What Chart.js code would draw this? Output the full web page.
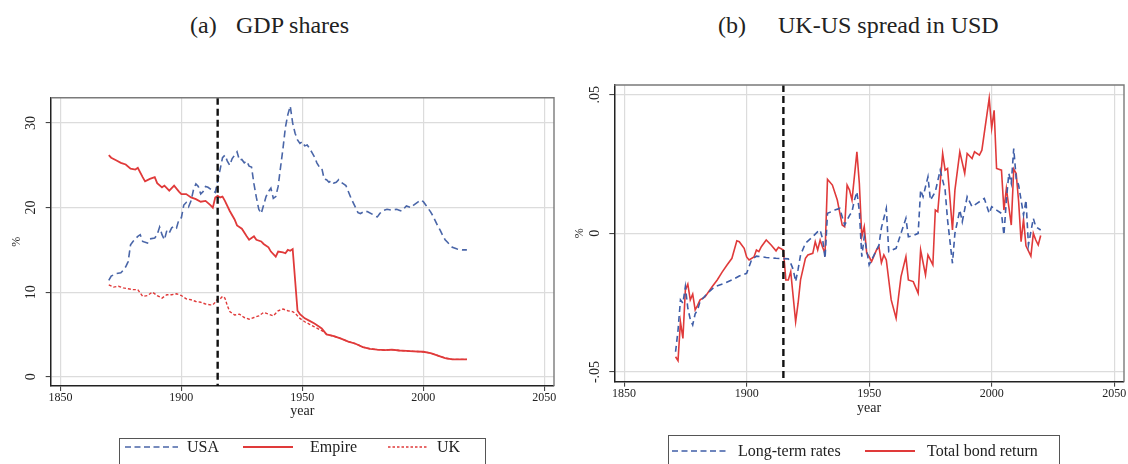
<!DOCTYPE html>
<html>
<head>
<meta charset="utf-8">
<script src="https://cdn.jsdelivr.net/npm/chart.js@4.4.1/dist/chart.umd.min.js"></script>
<style>
  body { margin: 0; background: #fff; width: 1128px; height: 464px; overflow: hidden; position: relative;
         font-family: "Liberation Serif", "DejaVu Serif", serif; color: #222; }
  .title { position: absolute; top: 11px; font-size: 24px; line-height: 28px; white-space: nowrap; }
  canvas { position: absolute; }
  .legend { position: absolute; border: 1px solid #555; height: 40px; background: #fff; }
  .item { position: absolute; font-size: 16px; line-height: 18px; white-space: nowrap; }
  svg { position: absolute; overflow: visible; }
</style>
</head>
<body>

<span class="title" style="left:190px">(a)</span>
<span class="title" style="left:236px">GDP shares</span>
<span class="title" style="left:718px">(b)</span>
<span class="title" style="left:778px">UK-US spread in USD</span>

<canvas id="gdp" width="560" height="345" style="left:0;top:80px"></canvas>
<canvas id="spread" width="568" height="350" style="left:560px;top:70px"></canvas>

<div class="legend" style="left:119px;top:438px;width:365px"></div>
<svg style="left:0;top:0" width="1" height="1">
  <line x1="125" y1="447" x2="178" y2="447" stroke="#4a66a8" stroke-width="1.6" stroke-dasharray="6,3.5"/>
  <line x1="243" y1="447" x2="293" y2="447" stroke="#e03a3a" stroke-width="1.8"/>
  <line x1="388" y1="447" x2="428" y2="447" stroke="#e03a3a" stroke-width="1.4" stroke-dasharray="2.5,2"/>
</svg>
<span class="item" style="left:187px;top:438px">USA</span>
<span class="item" style="left:310px;top:438px">Empire</span>
<span class="item" style="left:437px;top:438px">UK</span>

<div class="legend" style="left:668px;top:435px;width:390px"></div>
<svg style="left:0;top:0" width="1" height="1">
  <line x1="672" y1="451" x2="728" y2="451" stroke="#3f5ea8" stroke-width="1.6" stroke-dasharray="6,3.5"/>
  <line x1="865" y1="451" x2="915" y2="451" stroke="#e03a3a" stroke-width="1.8"/>
</svg>
<span class="item" style="left:738px;top:442px">Long-term rates</span>
<span class="item" style="left:927px;top:442px">Total bond return</span>

<script>
// year of the break marked by the dashed vertical line
const warYear = 1915;
const xTicks = [1850, 1900, 1950, 2000, 2050];

// (a) GDP shares, %
const usaYears = [1870, 1871, 1873, 1875, 1876, 1877, 1878, 1879, 1880, 1882, 1883, 1884, 1886, 1887, 1889, 1890, 1891, 1892, 1893, 1894, 1895, 1896, 1897, 1898, 1899, 1900,
  1901, 1902, 1903, 1904, 1905, 1906, 1907, 1908, 1909, 1910, 1911, 1913, 1914, 1915, 1916, 1917, 1918, 1919, 1920, 1921, 1922, 1923, 1924, 1925, 1926, 1927, 1928, 1929,
  1930, 1931, 1932, 1933, 1934, 1935, 1936, 1937, 1938, 1939, 1940, 1941, 1942, 1943, 1944, 1945, 1946, 1947, 1948, 1949, 1950, 1951, 1952, 1953, 1954, 1955, 1956, 1957,
  1958, 1959, 1960, 1961, 1962, 1963, 1964, 1965, 1966, 1967, 1968, 1969, 1970, 1971, 1972, 1973, 1974, 1976, 1977, 1979, 1980, 1981, 1982, 1983, 1985, 1987, 1989, 1990,
  1991, 1992, 1993, 1995, 1996, 1998, 1999, 2000, 2001, 2002, 2003, 2004, 2005, 2006, 2007, 2008, 2009, 2010, 2011, 2012, 2014, 2016, 2018];
const usaShare = [11.4, 11.9, 12.2, 12.3, 12.6, 13.0, 13.6, 15.6, 16.0, 16.6, 16.8, 16.0, 15.8, 16.3, 16.4, 16.8, 17.7, 16.8, 16.2, 17.3, 17.0, 17.6, 17.8, 17.6, 18.6, 18.8,
  20.3, 20.6, 20.1, 20.8, 22.1, 22.8, 22.5, 21.6, 21.9, 22.5, 22.4, 22.0, 21.8, 23.1, 24.5, 25.9, 26.2, 25.5, 25.0, 25.8, 26.2, 26.6, 25.6, 25.7, 25.3, 25.5, 24.9, 24.8,
  22.8, 21.2, 19.8, 19.3, 20.3, 21.3, 21.9, 22.3, 21.1, 21.3, 22.5, 24.8, 27.0, 29.5, 31.0, 32.0, 30.0, 28.8, 28.0, 27.6, 27.8, 27.3, 27.4, 27.0, 26.5, 26.0, 25.3, 24.8,
  24.7, 23.4, 23.3, 23.0, 23.2, 22.9, 23.0, 23.3, 23.0, 22.8, 22.6, 21.9, 21.2, 20.6, 20.0, 19.4, 19.3, 19.6, 19.5, 19.2, 19.0, 18.9, 19.3, 19.6, 19.8, 19.7, 19.8, 19.7,
  19.6, 19.9, 20.2, 20.0, 20.3, 20.7, 20.9, 20.7, 20.3, 19.9, 19.5, 19.0, 18.4, 17.8, 17.3, 16.7, 16.2, 15.9, 15.6, 15.3, 15.1, 15.0, 15.0];

const empireYears = [1870, 1871, 1873, 1875, 1877, 1879, 1881, 1882, 1884, 1885, 1887, 1889, 1890, 1892, 1893, 1895, 1897, 1899, 1900, 1902, 1904, 1906, 1908, 1910, 1912,
  1913, 1914, 1915, 1916, 1917, 1918, 1920, 1922, 1923, 1925, 1927, 1928, 1930, 1931, 1933, 1934, 1936, 1937, 1939, 1940, 1942, 1943, 1944, 1945, 1946, 1948, 1949, 1951,
  1953, 1955, 1957, 1958, 1960, 1963, 1966, 1969, 1972, 1975, 1978, 1981, 1984, 1987, 1990, 1993, 1996, 2000, 2003, 2006, 2009, 2012, 2015, 2018];
const empireShare = [26.2, 25.9, 25.6, 25.3, 25.1, 24.6, 24.5, 24.7, 23.6, 23.1, 23.4, 23.6, 22.9, 22.4, 22.6, 22.0, 22.6, 21.9, 21.6, 21.6, 21.2, 21.0, 20.7, 20.8, 20.3,
  20.0, 21.2, 21.4, 21.2, 21.3, 20.8, 19.6, 18.6, 17.9, 17.5, 16.6, 16.2, 16.6, 16.2, 16.0, 15.7, 15.3, 14.8, 14.2, 14.8, 14.7, 14.6, 15.0, 14.9, 15.1, 7.8, 7.4, 6.9,
  6.6, 6.3, 5.9, 5.7, 5.0, 4.8, 4.5, 4.15, 3.9, 3.5, 3.3, 3.2, 3.15, 3.2, 3.1, 3.05, 3.0, 2.95, 2.8, 2.5, 2.2, 2.05, 2.05, 2.05];

const ukYears = [1870, 1872, 1874, 1876, 1878, 1880, 1882, 1884, 1886, 1888, 1890, 1892, 1894, 1896, 1898, 1900, 1902, 1904, 1906, 1908, 1910, 1912, 1913, 1914, 1915,
  1916, 1917, 1918, 1919, 1920, 1922, 1924, 1926, 1928, 1930, 1932, 1934, 1936, 1938, 1940, 1942, 1944, 1946, 1947, 1949, 1951, 1953, 1955, 1957, 1959, 1960, 1963, 1966,
  1969, 1972, 1975, 1978, 1981, 1984, 1987, 1990, 1993, 1996, 2000, 2003, 2006, 2009, 2012, 2015, 2018];
const ukShare = [10.85, 10.6, 10.7, 10.5, 10.4, 10.3, 10.3, 9.5, 9.6, 10.0, 9.6, 9.3, 9.7, 9.7, 9.8, 9.6, 9.2, 9.1, 8.9, 8.8, 8.6, 8.5, 8.5, 8.8, 9.2,
  9.2, 9.5, 9.3, 8.4, 7.7, 7.3, 7.4, 7.0, 6.8, 7.0, 7.2, 7.6, 7.4, 7.2, 7.8, 8.0, 7.8, 7.7, 7.5, 6.9, 6.5, 6.2, 5.9, 5.6, 5.3, 5.0, 4.8, 4.5,
  4.15, 3.9, 3.5, 3.3, 3.2, 3.15, 3.2, 3.1, 3.05, 3.0, 2.95, 2.8, 2.5, 2.2, 2.05, 2.05, 2.05];

// (b) UK-US spread in USD
const rateYears = [1871, 1872, 1873, 1874, 1875, 1876, 1877, 1878, 1879, 1880, 1881, 1884, 1887, 1891, 1894, 1897, 1900, 1902, 1904, 1908, 1912, 1917, 1918, 1919, 1920,
  1921, 1922, 1924, 1927, 1929, 1930, 1931, 1932, 1933, 1936, 1938, 1940, 1942, 1943, 1944, 1945, 1946, 1947, 1948, 1949, 1950, 1952, 1954, 1955, 1957, 1958, 1961, 1963,
  1965, 1966, 1968, 1970, 1971, 1972, 1974, 1975, 1977, 1979, 1981, 1982, 1984, 1985, 1987, 1988, 1990, 1992, 1994, 1996, 1997, 1999, 2000, 2002, 2004, 2005, 2006, 2007,
  2008, 2009, 2010, 2011, 2013, 2014, 2015, 2017, 2018, 2020];
const rateSpread = [-0.0427, -0.035, -0.024, -0.0252, -0.0192, -0.027, -0.031, -0.033, -0.029, -0.0276, -0.0246, -0.0216, -0.0192, -0.018, -0.0168, -0.0154, -0.0144,
  -0.0096, -0.0082, -0.0087, -0.009, -0.0092, -0.0108, -0.013, -0.0174, -0.013, -0.0078, -0.0036, -0.0012, 0.0006, 0.0012, -0.002, -0.009, 0.0072, 0.0084, 0.009, 0.003,
  0.0065, 0.0078, 0.012, 0.015, 0.008, -0.0084, -0.0012, -0.006, -0.0114, -0.0078, -0.0042, 0.002, 0.009, -0.0066, -0.0054, 0.0, 0.0054, -0.0012, -0.0008, 0.0, 0.0156,
  0.0132, 0.0204, 0.012, 0.015, 0.0228, 0.0156, 0.0048, -0.0108, 0.0, 0.0084, 0.0042, 0.0132, 0.0096, 0.0108, 0.012, 0.0126, 0.0072, 0.0096, 0.0084, 0.0072, -0.0006,
  0.012, 0.0216, 0.018, 0.0306, 0.0198, 0.0174, 0.0066, 0.012, -0.0042, 0.0054, 0.0024, 0.0012];

const returnYears = [1871, 1872, 1873, 1874, 1875, 1876, 1877, 1878, 1879, 1880, 1881, 1883, 1886, 1888, 1890, 1892, 1894, 1896, 1897, 1899, 1900, 1901, 1903, 1904, 1905,
  1906, 1908, 1910, 1912, 1913, 1915, 1916, 1917, 1918, 1920, 1921, 1922, 1924, 1925, 1927, 1928, 1929, 1930, 1931, 1932, 1933, 1935, 1937, 1939, 1940, 1941, 1942, 1943,
  1945, 1946, 1947, 1948, 1949, 1950, 1951, 1953, 1954, 1955, 1956, 1957, 1959, 1961, 1962, 1963, 1965, 1966, 1968, 1970, 1971, 1973, 1974, 1976, 1977, 1978, 1980, 1981,
  1982, 1984, 1985, 1987, 1989, 1990, 1992, 1993, 1995, 1996, 1999, 2000, 2001, 2002, 2004, 2005, 2006, 2008, 2009, 2010, 2011, 2012, 2013, 2014, 2016, 2017, 2018, 2019, 2020];
const returnSpread = [-0.0445, -0.0459, -0.0319, -0.0379, -0.0204, -0.0183, -0.024, -0.0219, -0.0276, -0.026, -0.024, -0.0229, -0.0192, -0.0168, -0.014, -0.0114, -0.009,
  -0.0027, -0.003, -0.0054, -0.0085, -0.0096, -0.0085, -0.006, -0.0066, -0.0048, -0.0024, -0.0042, -0.0063, -0.005, -0.006, -0.0168, -0.0168, -0.0138, -0.0319, -0.0252,
  -0.0168, -0.009, -0.0078, -0.0072, -0.003, -0.006, -0.0024, -0.005, -0.0072, 0.0195, 0.0174, 0.012, 0.003, 0.0024, 0.0174, 0.0156, 0.012, 0.0294, 0.018, -0.0012, 0.0024,
  -0.0072, -0.0084, -0.0102, -0.006, -0.0048, -0.0106, -0.0078, -0.0096, -0.024, -0.0306, -0.0228, -0.0156, -0.0084, -0.0168, -0.0174, -0.0216, -0.006, -0.015, -0.0078,
  -0.0114, 0.0084, 0.0078, 0.0288, 0.0228, 0.0234, 0.0012, 0.0156, 0.0294, 0.0216, 0.0288, 0.027, 0.0294, 0.0282, 0.03, 0.0487, 0.0379, 0.0444, 0.0234, 0.0228, 0.0084,
  0.0162, 0.003, 0.0232, 0.0216, 0.0115, -0.003, 0.005, -0.0045, -0.0082, 0.0, -0.0024, -0.0042, -0.0008];

const pairs = (xs, ys) => xs.map((x, i) => ({ x, y: ys[i] }));

const frame = {
  id: "frame",
  afterDatasetsDraw(chart) {
    const { ctx, chartArea: a, scales: { x } } = chart;
    const px = x.getPixelForValue(warYear);
    ctx.save();
    ctx.strokeStyle = "#111";
    ctx.lineWidth = 2.4;
    ctx.setLineDash([7, 4]);
    ctx.beginPath();
    ctx.moveTo(px, a.top);
    ctx.lineTo(px, a.bottom);
    ctx.stroke();
    ctx.restore();
  },
  afterDraw(chart) {
    const { ctx, chartArea: a } = chart;
    ctx.save();
    ctx.strokeStyle = "#7a7a7a";
    ctx.lineWidth = 1.4;
    ctx.beginPath();
    ctx.moveTo(a.left, a.top);
    ctx.lineTo(a.right, a.top);
    ctx.lineTo(a.right, a.bottom);
    ctx.stroke();
    ctx.restore();
  }
};

function options(cfg) {
  const serif = "'Liberation Serif', serif";
  return {
    responsive: false,
    animation: false,
    devicePixelRatio: 1,
    layout: { padding: { top: cfg.padTop, right: cfg.padRight, left: 0, bottom: 0 } },
    plugins: { legend: { display: false }, tooltip: { enabled: false } },
    elements: { point: { radius: 0 }, line: { tension: 0 } },
    scales: {
      x: {
        type: "linear", min: 1846, max: 2054,
        afterBuildTicks: s => { s.ticks = xTicks.map(v => ({ value: v })); },
        afterFit: s => { s.height = cfg.xHeight; },
        grid: { color: "#dcdcdc", lineWidth: 1.2, tickLength: 5, tickColor: "#333", tickWidth: 1 },
        border: { color: "#222", width: 1.5 },
        ticks: { color: "#222", font: { family: serif, size: 12 }, padding: 0, maxRotation: 0, callback: v => String(v) },
        title: { display: true, text: "year", color: "#222", font: { family: serif, size: 14 }, padding: { top: 0, bottom: cfg.xTitlePad } }
      },
      y: {
        type: "linear", min: cfg.yMin, max: cfg.yMax,
        afterBuildTicks: s => { s.ticks = cfg.yTicks.map(v => ({ value: v })); },
        afterFit: s => { s.width = cfg.yWidth; },
        grid: { color: "#dcdcdc", lineWidth: 1.2, tickLength: 5, tickColor: "#333", tickWidth: 1 },
        border: { color: "#222", width: 1.5 },
        ticks: { color: "#222", font: { family: serif, size: 14 }, padding: cfg.yLabelPad,
                 minRotation: 90, maxRotation: 90, crossAlign: "center", callback: cfg.yFmt },
        title: { display: true, text: "%", color: "#222", font: { family: serif, size: 12 }, padding: { top: cfg.yTitlePad, bottom: 0 } }
      }
    }
  };
}

new Chart(document.getElementById("gdp"), {
  type: "line",
  data: {
    datasets: [
      { label: "USA", data: pairs(usaYears, usaShare), borderColor: "#4a66a8", borderWidth: 1.6, borderDash: [7, 4] },
      { label: "Empire", data: pairs(empireYears, empireShare), borderColor: "#e03a3a", borderWidth: 1.8 },
      { label: "UK", data: pairs(ukYears, ukShare), borderColor: "#e03a3a", borderWidth: 1.4, borderDash: [3, 2] }
    ]
  },
  options: options({ yMin: -1.1, yMax: 33, yTicks: [0, 10, 20, 30], yFmt: v => String(v),
    yWidth: 50.7, xHeight: 39, padTop: 17.7, padRight: 6, yLabelPad: 7, yTitlePad: 9.5, xTitlePad: 5 }),
  plugins: [frame]
});

new Chart(document.getElementById("spread"), {
  type: "line",
  data: {
    datasets: [
      { label: "Long-term rates", data: pairs(rateYears, rateSpread), borderColor: "#3f5ea8", borderWidth: 1.6, borderDash: [6, 4] },
      { label: "Total bond return", data: pairs(returnYears, returnSpread), borderColor: "#e03a3a", borderWidth: 1.6 }
    ]
  },
  options: options({ yMin: -0.0535, yMax: 0.0535, yTicks: [-0.05, 0, 0.05],
    yFmt: v => v === 0 ? "0" : (v < 0 ? "-" : "") + "." + String(Math.round(Math.abs(v) * 100)).padStart(2, "0"),
    yWidth: 54.3, xHeight: 38.3, padTop: 15, padRight: 4, yLabelPad: 3, yTitlePad: 13, xTitlePad: 3 }),
  plugins: [frame]
});
</script>
</body>
</html>
